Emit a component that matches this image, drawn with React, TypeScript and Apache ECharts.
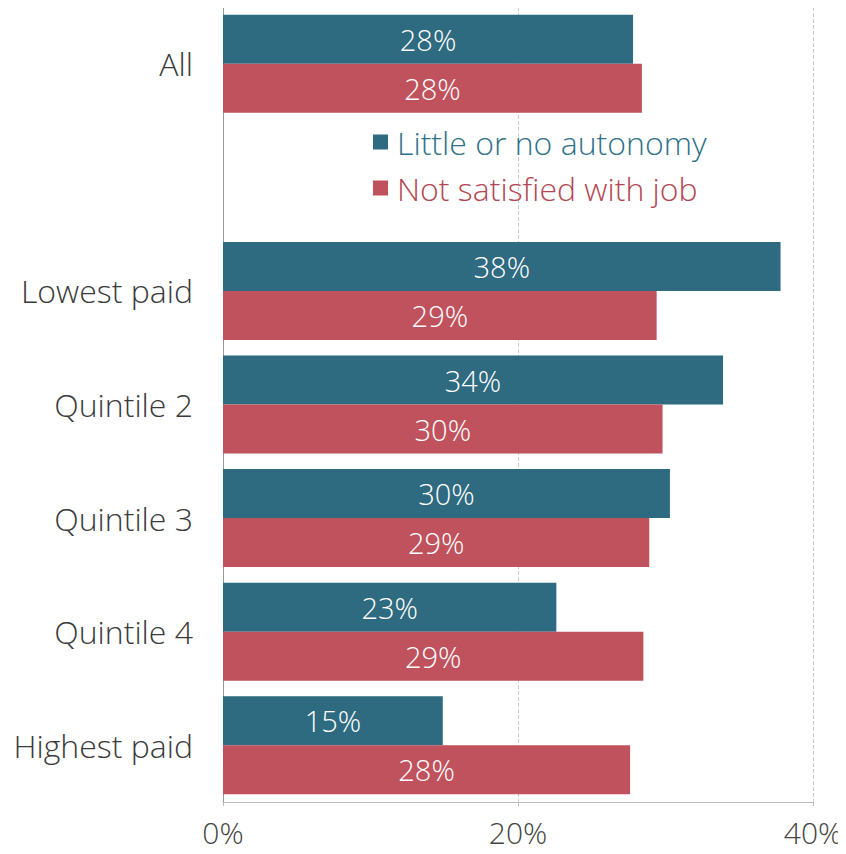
import React, { useEffect, useRef } from "react";
import * as echarts from "echarts";

const categories = ["All", "", "Lowest paid", "Quintile 2", "Quintile 3", "Quintile 4", "Highest paid"];
const autonomy: (number | null)[] = [27.8, null, 37.8, 33.9, 30.3, 22.6, 14.9];
const notSatisfied: (number | null)[] = [28.4, null, 29.4, 29.8, 28.9, 28.5, 27.6];
const xTicks = [0, 20, 40];

const TEAL = "#2e6a80";
const RED = "#bf525c";
const FONT = "'Open Sans', Roboto, sans-serif";

export default function App() {
  const ref = useRef<HTMLDivElement>(null);
  useEffect(() => {
    if (!ref.current) return;
    const chart = echarts.init(ref.current, null, { renderer: "svg" });
    const label = {
      show: true,
      position: "inside",
      color: "#ffffff",
      fontSize: 29,
      fontWeight: 300,
      fontFamily: FONT,
      formatter: (p: any) => Math.round(p.value) + "%",
    };
    chart.setOption({
      animation: false,
      backgroundColor: "#ffffff",
      grid: { left: 223, right: 33, top: 7, bottom: 52, containLabel: false },
      legend: {
        orient: "vertical",
        left: 368,
        top: 121,
        itemWidth: 15,
        itemHeight: 15,
        itemGap: 14,
        icon: "rect",
        textStyle: { fontSize: 32, fontWeight: 300, fontFamily: FONT, padding: [0, 0, 0, 4] },
        data: [
          { name: "Little or no autonomy", textStyle: { color: "#2f7189" } },
          { name: "Not satisfied with job", textStyle: { color: "#b34652" } },
        ],
      },
      xAxis: {
        type: "value",
        min: 0,
        max: 40,
        interval: 20,
        axisLine: { show: true, lineStyle: { color: "#bbbbbb" } },
        axisTick: { show: true, length: 4, lineStyle: { color: "#bbbbbb" } },
        axisLabel: {
          fontSize: 30,
          fontWeight: 300,
          color: "#444444",
          fontFamily: FONT,
          margin: 15,
          formatter: (v: number) => (xTicks.includes(v) ? v + "%" : ""),
        },
        splitLine: { show: true, lineStyle: { color: "#cccccc", type: "dashed" } },
      },
      yAxis: {
        type: "category",
        data: categories,
        inverse: true,
        axisLine: { show: true, lineStyle: { color: "#999999" } },
        axisTick: { show: false },
        axisLabel: {
          fontSize: 32,
          fontWeight: 300,
          color: "#3a3a3a",
          fontFamily: FONT,
          margin: 30,
          padding: [0, 0, 10, 0],
        },
      },
      series: [
        {
          name: "Little or no autonomy",
          type: "bar",
          data: autonomy,
          barWidth: 49,
          barGap: "0%",
          itemStyle: { color: TEAL },
          label,
        },
        {
          name: "Not satisfied with job",
          type: "bar",
          data: notSatisfied,
          barWidth: 49,
          barGap: "0%",
          itemStyle: { color: RED },
          label,
        },
      ],
    });
    return () => chart.dispose();
  }, []);
  return <div ref={ref} style={{ width: 846, height: 854, margin: -8 }} />;
}
